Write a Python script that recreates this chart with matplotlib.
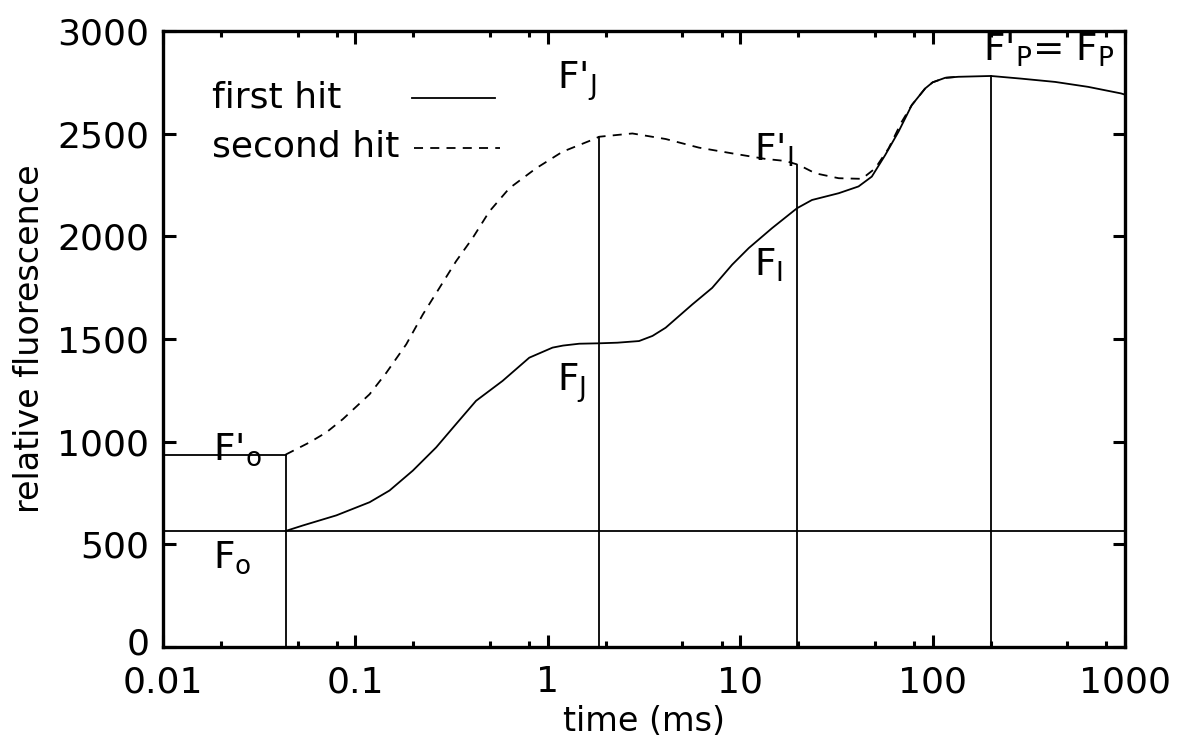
import numpy as np
import matplotlib
matplotlib.use("Agg")
import matplotlib.pyplot as plt
import matplotlib.transforms as mtransforms
from matplotlib.ticker import FixedLocator, NullFormatter

plt.rcParams['font.family'] = ['DejaVu Sans']
plt.rcParams['mathtext.fontset'] = 'dejavusans'

# First light pulse (solid curve): time in ms, fluorescence in relative units
t_first = [0.0434, 0.0534, 0.0796, 0.1185, 0.1504, 0.1988, 0.2628, 0.3337, 0.4237,
           0.582, 0.801, 1.058, 1.2, 1.456, 1.848, 2.3, 2.979, 3.5, 4.097, 5.63,
           7.15, 9.08, 11.08, 14.64, 19.74, 23.6, 32.5, 41.2, 48.3, 56.7, 66.5,
           77.9, 91.4, 100.0, 116.1, 136.0, 201.0, 288.8, 433.5, 642.7, 953.0,
           1000.0]
f_first = [565, 592, 641, 705, 762, 859, 972, 1086, 1199,
           1296, 1409, 1458, 1468, 1477, 1479, 1482, 1490, 1515, 1555, 1668,
           1749, 1862, 1943, 2040, 2137, 2177, 2210, 2243, 2291, 2396, 2510,
           2639, 2720, 2750, 2772, 2777, 2781, 2768, 2752, 2728, 2696,
           2690]

# Second light pulse (dashed curve)
t_second = [0.0434, 0.0579, 0.0706, 0.0861, 0.1185, 0.1446, 0.1837, 0.2239, 0.2734,
            0.3337, 0.4068, 0.4966, 0.6306, 0.8678, 1.192, 1.640, 1.848, 2.750,
            4.097, 6.10, 9.08, 13.52, 17.18, 20.13, 24.55, 32.5, 42.9, 50.3,
            59.0, 69.1, 77.9, 91.4, 100.0, 116.1, 136.0]
f_second = [937, 997, 1045, 1110, 1231, 1335, 1474, 1619, 1749,
            1879, 1992, 2121, 2234, 2331, 2412, 2464, 2485, 2501,
            2474, 2432, 2404, 2377, 2367, 2348, 2307, 2283, 2280, 2331,
            2428, 2558, 2639, 2720, 2750, 2772, 2777]

# Characteristic points of the transient
t_O, t_J, t_I, t_P = 0.0434, 1.848, 19.74, 201.0
F_O, F_O2 = 565, 937
F_J2, F_I2, F_P = 2485, 2348, 2781

x_ticks = [0.01, 0.1, 1, 10, 100, 1000]
x_ticklabels = ['0.01', '0.1', '1', '10', '100', '1000']
y_ticks = [0, 500, 1000, 1500, 2000, 2500, 3000]

fig = plt.figure(figsize=(11.83, 7.40), dpi=100)
ax = fig.add_axes([0.1378, 0.1257, 0.8132, 0.8324])

ax.set_xscale('log')
ax.set_xlim(0.01, 1000)
ax.set_ylim(0, 3000)

lw = 1.3
dash = (0, (5, 4))
ax.plot(t_first, f_first, color='black', lw=lw)
ax.plot(t_second, f_second, color='black', lw=lw, linestyle=dash)

# Reference lines marking O, J, I and P levels
ax.axhline(F_O, color='black', lw=lw)
ax.plot([0.01, t_O], [F_O2, F_O2], color='black', lw=lw)
ax.plot([t_O, t_O], [0, F_O2], color='black', lw=lw)
ax.plot([t_J, t_J], [0, F_J2], color='black', lw=lw)
ax.plot([t_I, t_I], [0, F_I2], color='black', lw=lw)
ax.plot([t_P, t_P], [0, F_P], color='black', lw=lw)

# Ticks: inward on all four sides, minor ticks at 2, 5, 8 per decade
minor = []
for d in [0.01, 0.1, 1, 10, 100]:
    minor += [2 * d, 5 * d, 8 * d]
ax.xaxis.set_major_locator(FixedLocator(x_ticks))
ax.xaxis.set_minor_locator(FixedLocator(minor))
ax.xaxis.set_minor_formatter(NullFormatter())
ax.set_xticklabels(x_ticklabels)
ax.set_yticks(y_ticks)
ax.tick_params(which='major', direction='in', length=9, width=2.2,
               top=True, right=True, labelsize=26)
ax.tick_params(which='minor', direction='in', length=4, width=2.2,
               top=True, right=True)
ax.tick_params(axis='x', which='major', pad=13)
ax.tick_params(axis='y', which='major', pad=10)
for s in ax.spines.values():
    s.set_linewidth(2.4)

# Lift the lowest y label slightly so it clears the first x label
zero_label = ax.get_yticklabels()[0]
zero_label.set_transform(zero_label.get_transform() +
                         mtransforms.ScaledTranslation(0, 4 / 72, fig.dpi_scale_trans))

ax.set_xlabel('time (ms)', fontsize=24, labelpad=4)
ax.set_ylabel('relative fluorescence', fontsize=24, labelpad=8)

fs = 27
ax.text(0.0182, 910, "F'$_\\mathregular{o}$", fontsize=fs, ha='left', va='baseline')
ax.text(0.0182, 384, "F$_\\mathregular{o}$", fontsize=fs, ha='left', va='baseline')
ax.text(1.12, 1250, "F$_\\mathregular{J}$", fontsize=fs, ha='left', va='baseline')
ax.text(1.12, 2720, "F'$_\\mathregular{J}$", fontsize=fs, ha='left', va='baseline')
ax.text(11.8, 1810, "F$_\\mathregular{I}$", fontsize=fs, ha='left', va='baseline')
ax.text(11.8, 2370, "F'$_\\mathregular{I}$", fontsize=fs, ha='left', va='baseline')
ax.text(183, 2856, "F'$_\\mathregular{P}$= F$_\\mathregular{P}$", fontsize=fs,
        ha='left', va='baseline')

# Key: label text followed by a line sample
key_fs = 26
ax.text(0.0509, 0.8766, 'first hit', transform=ax.transAxes, fontsize=key_fs,
        ha='left', va='baseline')
ax.text(0.0509, 0.7955, 'second hit', transform=ax.transAxes, fontsize=key_fs,
        ha='left', va='baseline')
ax.plot([0.2588, 0.3451], [0.8912, 0.8912], transform=ax.transAxes,
        color='black', lw=lw)
ax.plot([0.2609, 0.3503], [0.8101, 0.8101], transform=ax.transAxes,
        color='black', lw=lw, linestyle=dash)

fig.savefig('out.png', dpi=100)
